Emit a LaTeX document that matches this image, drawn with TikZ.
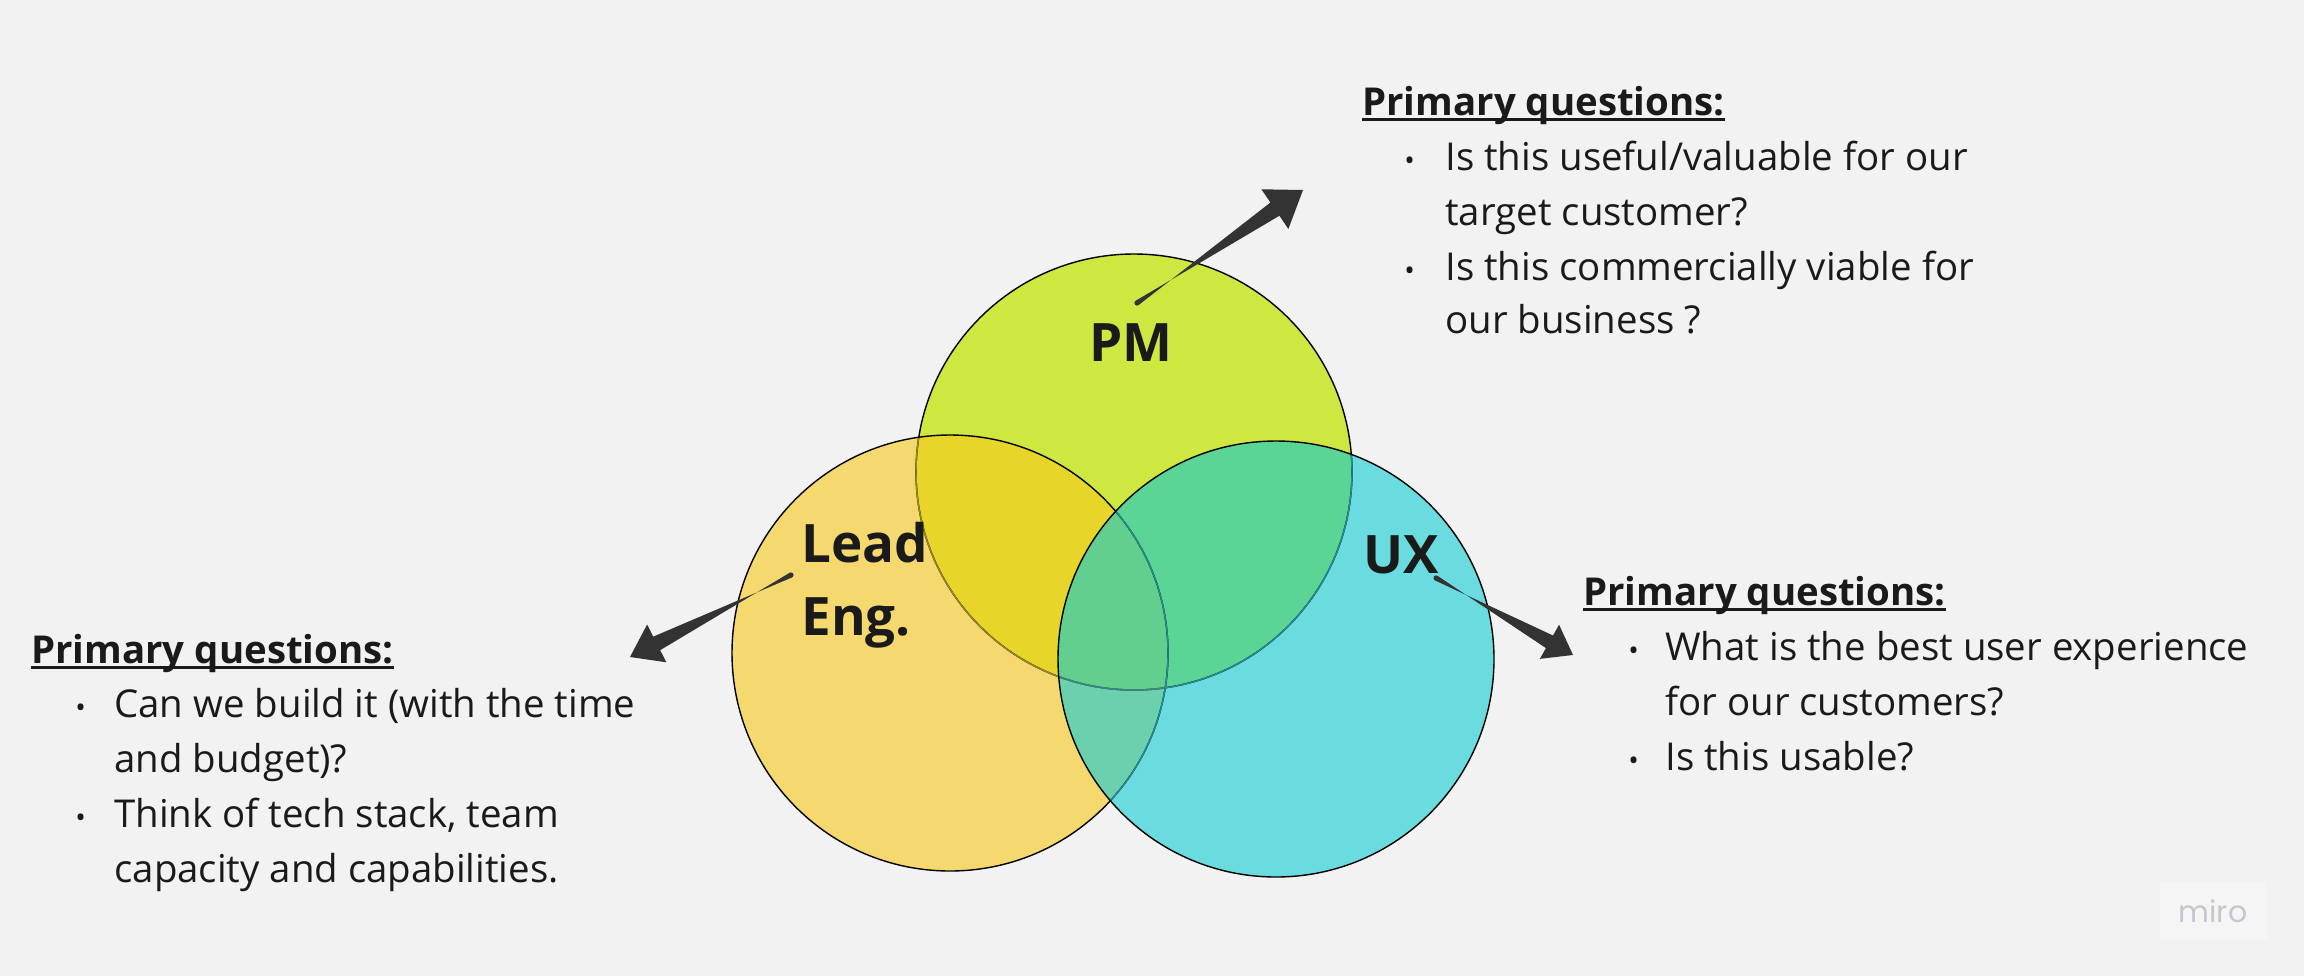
\documentclass[tikz,border=0pt]{standalone}
\usepackage{fontspec}
\setmainfont{Open Sans}
\newfontfamily\mirofont{Poppins}
\usetikzlibrary{calc}
\definecolor{bg}{HTML}{F2F2F2}
\definecolor{pmc}{RGB}{207,231,65}
\definecolor{lec}{RGB}{245,216,110}
\definecolor{uxc}{RGB}{106,220,224}
\definecolor{pmle}{RGB}{232,213,42}
\definecolor{pmux}{RGB}{90,213,150}
\definecolor{leux}{RGB}{106,208,174}
\definecolor{allc}{RGB}{98,207,142}
\definecolor{olivel}{RGB}{150,135,40}
\definecolor{teall}{RGB}{40,140,145}
\definecolor{arrowc}{HTML}{333333}
\definecolor{txt}{HTML}{1A1A1A}
\definecolor{mirotxt}{RGB}{198,198,206}
\definecolor{mirobox}{HTML}{F5F5F6}
\newcommand{\taperarrow}[5]{%
  \coordinate (tmpH) at ($(#2)!#3!(#1)$);
  \fill[arrowc] ($(#1)!1.3pt!90:(#2)$) -- ($(tmpH)!#4!-90:(#2)$) -- ($(tmpH)!#5!-90:(#2)$) -- (#2)
     -- ($(tmpH)!#5!90:(#2)$) -- ($(tmpH)!#4!90:(#2)$) -- ($(#1)!1.3pt!-90:(#2)$) -- cycle;
  \fill[arrowc] (#1) circle (1.3pt);
}
\begin{document}
\begin{tikzpicture}[x=0.5pt,y={(0pt,-0.5pt)},
  border/.style={line width=0.7pt},
  body/.style={font=\fontsize{19.2}{23}\selectfont, text=txt, inner sep=0pt, anchor=base west},
  head/.style={font=\fontsize{19.2}{23}\selectfont\bfseries, text=txt, inner sep=0pt, anchor=base west},
  bul/.style={font=\fontsize{14}{16}\selectfont, text=txt, inner sep=0pt, anchor=base west},
  lbl/.style={font=\fontsize{26.5}{30}\selectfont\bfseries, text=txt, inner sep=0pt, anchor=base west},
  ulin/.style={line width=1.7pt, txt}]
\fill[bg] (0,0) rectangle (2304,976);
\useasboundingbox (0,0) rectangle (2304,976);
% circles
\coordinate (cpm) at (1134,472);
\coordinate (cle) at (950,653);
\coordinate (cux) at (1276,659);
\fill[pmc] (cpm) circle (109pt);
\fill[lec] (cle) circle (109pt);
\fill[uxc] (cux) circle (109pt);
\begin{scope}
  \clip (cpm) circle (109pt);
  \fill[pmle] (cle) circle (109pt);
  \fill[pmux] (cux) circle (109pt);
\end{scope}
\begin{scope}
  \clip (cle) circle (109pt);
  \fill[leux] (cux) circle (109pt);
  \clip (cpm) circle (109pt);
  \fill[allc] (cux) circle (109pt);
\end{scope}
\draw[border] (cpm) circle (109pt);
\begin{scope}
  \clip (cle) circle (109pt);
  \draw[border, olivel] (cpm) circle (109pt);
\end{scope}
\draw[border] (cle) circle (109pt);
\begin{scope}
  \clip (cux) circle (109pt);
  \draw[border, teall] (cpm) circle (109pt);
  \draw[border, teall] (cle) circle (109pt);
\end{scope}
\draw[border] (cux) circle (109pt);
% labels
\node[lbl, anchor=base] (pm) at (1131,361) {PM};
\node[lbl] (lead) at (801,562) {Lead};
\node[lbl] (eng) at (801,635) {Eng.};
\node[lbl] (ux) at (1363,573) {UX};
% PM block
\node[head] (pmh) at (1362,115) {Primary questions:};
\draw[ulin] ([yshift=-2.3pt]pmh.base west) -- ([yshift=-2.3pt]pmh.base east);
\node[bul] (pmb1) at (1404,170) {•};
\node[body] (pm1) at (1445,170) {Is this useful/valuable for our};
\node[body] (pm2) at (1445,225) {target customer?};
\node[bul] (pmb2) at (1404,280) {•};
\node[body] (pm3) at (1445,280) {Is this commercially viable for};
\node[body] (pm4) at (1445,333) {our business ?};
% Lead block
\node[head] (leh) at (31,663) {Primary questions:};
\draw[ulin] ([yshift=-2.3pt]leh.base west) -- ([yshift=-2.3pt]leh.base east);
\node[bul] (leb1) at (75,717) {•};
\node[body] (le1) at (114,717) {Can we build it (with the time};
\node[body] (le2) at (114,772) {and budget)?};
\node[bul] (leb2) at (75,827) {•};
\node[body] (le3) at (114,827) {Think of tech stack, team};
\node[body] (le4) at (114,882) {capacity and capabilities.};
% UX block
\node[head] (uxh) at (1583,605) {Primary questions:};
\draw[ulin] ([yshift=-2.3pt]uxh.base west) -- ([yshift=-2.3pt]uxh.base east);
\node[bul] (uxb1) at (1628,660) {•};
\node[body] (ux1) at (1665,660) {What is the best user experience};
\node[body] (ux2) at (1665,715) {for our customers?};
\node[bul] (uxb2) at (1628,770) {•};
\node[body] (ux3) at (1665,770) {Is this usable?};
% arrows
\coordinate (pmtail) at (1137,303);
\coordinate (pmtip) at (1303,190);
\coordinate (letail) at (791,575);
\coordinate (letip) at (630,657);
\coordinate (uxtail) at (1436,578);
\coordinate (uxtip) at (1573,655);
\taperarrow{pmtail}{pmtip}{17pt}{4pt}{12pt}
\taperarrow{letail}{letip}{15pt}{3.8pt}{10.6pt}
\taperarrow{uxtail}{uxtip}{13.5pt}{3.6pt}{9.8pt}
% miro
\fill[mirobox] (2160,882) rectangle (2267,940);
\node[font=\mirofont\fontsize{15}{18}\selectfont, text=mirotxt, inner sep=0pt, anchor=base] (miro) at (2213,922) {miro};
\end{tikzpicture}
\end{document}
